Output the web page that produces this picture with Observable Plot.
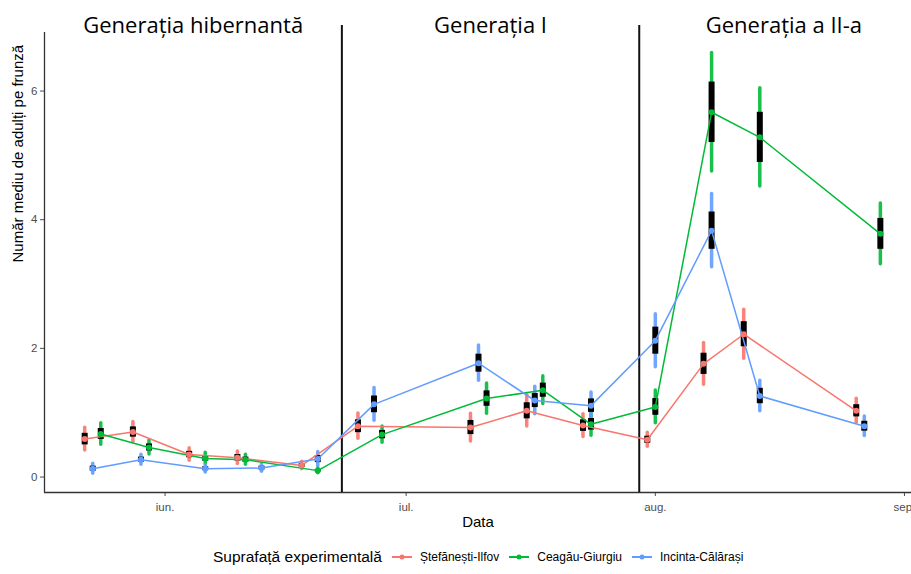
<!DOCTYPE html>
<html>
<head>
<meta charset="utf-8">
<script src="https://cdn.jsdelivr.net/npm/d3@7"></script>
<script src="https://cdn.jsdelivr.net/npm/@observablehq/plot@0.6"></script>
<style>
  html, body { margin: 0; padding: 0; background: #fff; }
  #chart svg { display: block; }
  #legend { display: flex; align-items: center; height: 34px; padding-left: 213px;
    font-family: "Liberation Sans", Arial, sans-serif; color: #000; }
  #legend .ttl { font-size: 15.5px; margin-right: 10px; }
  #legend .item { display: flex; align-items: center; margin-right: 10px; font-size: 12px; }
  #legend svg { margin-right: 8px; }
</style>
</head>
<body>
<div id="chart"></div>
<div id="legend"></div>
<script>
// ---- data ----
const seriesNames = ["Ștefănești-Ilfov", "Ceagău-Giurgiu", "Incinta-Călărași"];
const seriesColors = ["#F8766D", "#00BA38", "#619CFF"];

const redDates = ["2019-05-22","2019-05-28","2019-06-04","2019-06-10","2019-06-18","2019-06-25","2019-07-09","2019-07-16","2019-07-23","2019-07-31","2019-08-07","2019-08-12","2019-08-26"];
const redMean  = [0.59,0.70,0.35,0.30,0.18,0.79,0.77,1.03,0.80,0.58,1.76,2.22,1.03];
const redSE    = [0.09,0.08,0.05,0.05,0.03,0.10,0.11,0.125,0.09,0.055,0.165,0.195,0.095];

const greenDates = ["2019-05-24","2019-05-30","2019-06-06","2019-06-11","2019-06-20","2019-06-28","2019-07-11","2019-07-18","2019-07-24","2019-08-01","2019-08-08","2019-08-14","2019-08-29"];
const greenMean  = [0.67,0.46,0.29,0.27,0.10,0.66,1.22,1.35,0.82,1.09,5.67,5.28,3.78];
const greenSE    = [0.085,0.055,0.045,0.04,0.02,0.065,0.12,0.11,0.09,0.13,0.47,0.39,0.24];

const blueDates = ["2019-05-23","2019-05-29","2019-06-06","2019-06-13","2019-06-20","2019-06-27","2019-07-10","2019-07-17","2019-07-24","2019-08-01","2019-08-08","2019-08-14","2019-08-27"];
const blueMean  = [0.13,0.27,0.13,0.14,0.28,1.13,1.77,1.19,1.11,2.12,3.83,1.26,0.79];
const blueSE    = [0.04,0.04,0.03,0.03,0.055,0.13,0.14,0.11,0.105,0.21,0.29,0.12,0.077];

const ciMultiplier = 1.96;

const generationNames  = ["Generația hibernantă", "Generația I", "Generația a II-a"];
const generationStarts = ["2019-05-17", "2019-06-23", "2019-07-30"];
const generationEnds   = ["2019-06-23", "2019-07-30", "2019-09-04"];

const xTickDates  = ["2019-06-01", "2019-07-01", "2019-08-01", "2019-09-01"];
const xTickLabels = ["iun.", "iul.", "aug.", "sep."];
const yTicks = [0, 2, 4, 6];

const xDomain = ["2019-05-17T00:00Z", "2019-09-01T21:00Z"];
const yDomain = [-0.24, 6.91];
const yTopRule = 7.02;

const xLabel = "Data";
const yLabel = "Număr mediu de adulți pe frunză";
const legendTitle = "Suprafață experimentală";

// ---- build table ----
const parse = s => new Date(s.length === 10 ? s + "T00:00Z" : s);
const rows = [];
[[redDates, redMean, redSE], [greenDates, greenMean, greenSE], [blueDates, blueMean, blueSE]]
  .forEach(([ds, ms, ss], k) => ds.forEach((d, i) => rows.push({
    series: seriesNames[k], date: parse(d), mean: ms[i], se: ss[i]
  })));
const gens = generationNames.map((n, i) => ({
  name: n, start: parse(generationStarts[i]), end: parse(generationEnds[i]),
  mid: new Date((parse(generationStarts[i]).getTime() + parse(generationEnds[i]).getTime()) / 2)
}));
const breaks = gens.slice(1).map(g => g.start);
const xd = xDomain.map(parse);
const tickDates = xTickDates.map(parse);

const chart = Plot.plot({
  width: 911, height: 540,
  marginLeft: 44, marginRight: 0, marginTop: 32, marginBottom: 48,
  style: { fontFamily: "'Liberation Sans', Arial, sans-serif", fontSize: "11.5px", color: "#4D4D4D", background: "#fff" },
  x: { type: "utc", domain: xd, ticks: tickDates, tickFormat: (d) => xTickLabels[tickDates.findIndex(t => +t === +d)], tickSize: 4, tickPadding: 6, label: null },
  y: { domain: yDomain, ticks: yTicks, tickSize: 4, tickPadding: 3, label: null },
  color: { domain: seriesNames, range: seriesColors },
  marks: [
    Plot.ruleX([xd[0]], { y1: yDomain[0], y2: yDomain[1], stroke: "#333", strokeWidth: 1.3 }),
    Plot.ruleY([yDomain[0]], { stroke: "#333", strokeWidth: 1.3 }),
    Plot.ruleX(breaks, { y1: yDomain[0], y2: yTopRule, stroke: "#111", strokeWidth: 2 }),
    Plot.text(gens, { x: "mid", text: "name", frameAnchor: "top", lineAnchor: "middle", dy: -7,
      fontSize: 22, fontFamily: "'Open Sans', sans-serif", fill: "#000" }),
    Plot.ruleX(rows, { x: "date", y1: d => d.mean - ciMultiplier * d.se, y2: d => d.mean + ciMultiplier * d.se,
      stroke: "series", strokeWidth: 3.5, strokeLinecap: "round", strokeOpacity: 0.9 }),
    Plot.ruleX(rows, { x: "date", y1: d => d.mean - d.se, y2: d => d.mean + d.se, stroke: "#000", strokeWidth: 6 }),
    Plot.line(rows, { x: "date", y: "mean", stroke: "series", strokeWidth: 1.5 }),
    Plot.dot(rows, { x: "date", y: "mean", fill: "series", r: 3 }),
    Plot.text([xLabel], { text: d => d, frameAnchor: "bottom", lineAnchor: "middle", dy: 30, fontSize: 15, fill: "#000" }),
    Plot.text([yLabel], { text: d => d, frameAnchor: "left", lineAnchor: "middle", dx: -26, rotate: -90, fontSize: 15, fill: "#000" })
  ]
});
document.getElementById("chart").appendChild(chart);

// ---- legend ----
const legend = document.getElementById("legend");
const t = document.createElement("span");
t.className = "ttl"; t.textContent = legendTitle;
legend.appendChild(t);
seriesNames.forEach((n, i) => {
  const it = document.createElement("span");
  it.className = "item";
  it.innerHTML = `<svg width="20" height="10"><line x1="0" x2="20" y1="5" y2="5" stroke="${seriesColors[i]}" stroke-width="2"/><circle cx="10" cy="5" r="2.5" fill="${seriesColors[i]}"/></svg>`;
  const s = document.createElement("span");
  s.textContent = n;
  it.appendChild(s);
  legend.appendChild(it);
});
</script>
</body>
</html>
